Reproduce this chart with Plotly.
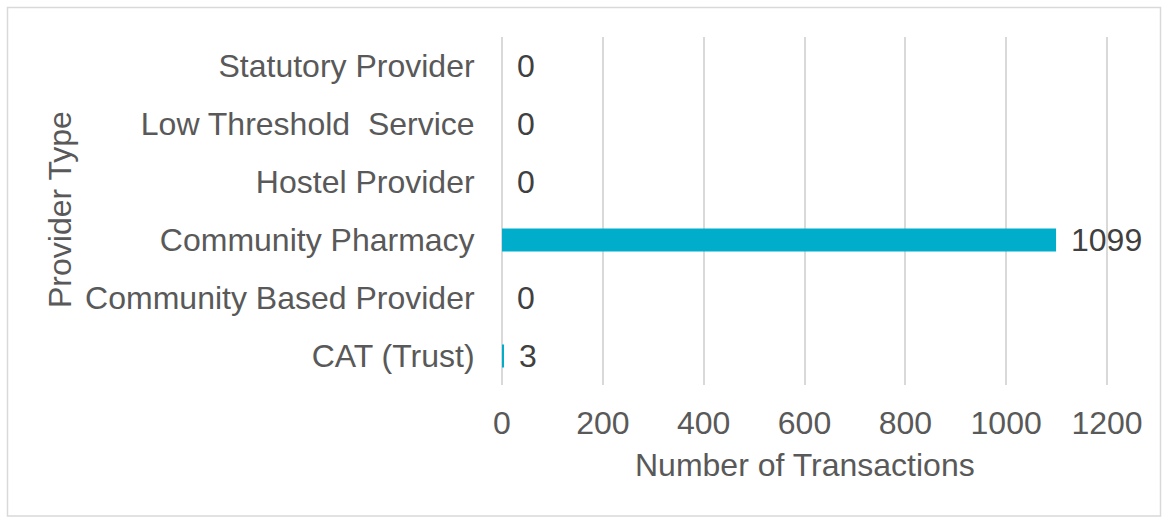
import plotly.graph_objects as go

categories = ["CAT (Trust)", "Community Based Provider", "Community Pharmacy",
              "Hostel Provider", "Low Threshold  Service", "Statutory Provider"]
values = [3, 0, 1099, 0, 0, 0]
x_ticks = [0, 200, 400, 600, 800, 1000, 1200]

W, H = 1167, 518
L, R, T, B = 501, 59, 37, 133
TXT = "#595959"
FONT = "Liberation Sans, Arial, sans-serif"
FS = 32

fig = go.Figure()
fig.add_trace(go.Bar(
    y=categories, x=values, orientation="h",
    marker=dict(color="#00AECB", line=dict(width=0)),
    width=0.4, hoverinfo="skip",
))

for c, v in zip(categories, values):
    fig.add_annotation(x=v, y=c, text=str(v), showarrow=False,
                       xanchor="left", yanchor="middle", xshift=13,
                       font=dict(size=FS, color="#404040", family=FONT))

pw = W - L - R
ph = H - T - B
def px(xp):
    return (xp - L) / pw
def py(yp):
    return (H - B - yp) / ph

# axis titles
fig.add_annotation(xref="paper", yref="paper", x=px(60), y=py(210),
                   text="Provider Type", textangle=-90, showarrow=False,
                   xanchor="center", yanchor="middle",
                   font=dict(size=FS, color=TXT, family=FONT))
fig.add_annotation(xref="paper", yref="paper", x=px(805), y=py(465),
                   text="Number of Transactions", showarrow=False,
                   xanchor="center", yanchor="middle",
                   font=dict(size=FS, color=TXT, family=FONT))

# chart border
fig.add_shape(type="rect", xref="paper", yref="paper",
              x0=px(7.5), x1=px(1160.5), y0=py(516), y1=py(7.5),
              line=dict(color="#D9D9D9", width=1.5), layer="below")

fig.update_layout(
    width=W, height=H,
    margin=dict(l=L, r=R, t=T, b=B, autoexpand=False),
    paper_bgcolor="white", plot_bgcolor="white",
    showlegend=False,
    font=dict(family=FONT, size=FS, color=TXT),
    bargap=0.6,
)
fig.update_xaxes(range=[-2, 1202], tickvals=x_ticks, showgrid=True,
                 gridcolor="#D9D9D9", gridwidth=1.5, zeroline=False,
                 showline=False, ticks="outside", ticklen=10, tickcolor="rgba(0,0,0,0)",
                 tickfont=dict(size=FS, color=TXT, family=FONT), fixedrange=True)
fig.update_yaxes(categoryorder="array", categoryarray=categories,
                 showgrid=False, zeroline=False, showline=False,
                 ticks="outside", ticklen=19, tickcolor="rgba(0,0,0,0)",
                 tickfont=dict(size=FS, color=TXT, family=FONT), fixedrange=True)

fig.write_html("out.html", config=dict(displayModeBar=False),
               post_script="document.body.style.margin='0';document.body.style.overflow='hidden';")
